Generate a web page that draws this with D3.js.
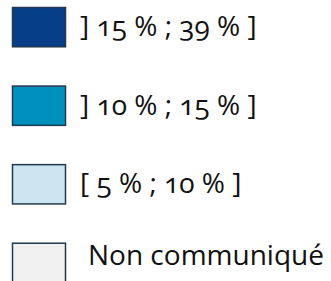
<!DOCTYPE html>
<html>
<head>
<meta charset="utf-8">
<script src="https://cdn.jsdelivr.net/npm/d3@7"></script>
<style>
  body { margin: 0; background: #fff; }
  text { font-family: "Open Sans", sans-serif; font-variant-numeric: oldstyle-nums; fill: #111; }
</style>
</head>
<body>
<div id="legend"></div>
<script>
"use strict";

var classes = ["] 15 % ; 39 % ]", "] 10 % ; 15 % ]", "[ 5 % ; 10 % ]", "Non communiqué"];
var colors = ["#063f87", "#0090bd", "#cce3f0", "#f0f0f0"];

var width = 331, height = 281;

var svg = d3.select("#legend").append("svg")
    .attr("width", width)
    .attr("height", height);

// rows placed on a band scale, one per class
var y = d3.scaleBand()
    .domain(classes)
    .range([7, 282])
    .paddingInner(0.5)
    .paddingOuter(0);

var rows = svg.selectAll("g.row")
    .data(classes)
  .enter().append("g")
    .attr("class", "row")
    .attr("transform", function(d) { return "translate(0," + y(d) + ")"; });

rows.append("rect")
    .attr("x", 12.5)
    .attr("y", 0.5)
    .attr("width", 53)
    .attr("height", y.bandwidth())
    .attr("fill", function(d, i) { return colors[i]; })
    .attr("stroke", "#22384d")
    .attr("stroke-width", 1.5);

rows.append("text")
    .attr("x", function(d, i) { return i === 3 ? 88 : 80; })
    .attr("y", function(d, i) { return i === 3 ? 22 : 29; })
    .attr("font-size", 28)
    .text(function(d) { return d; });
</script>
</body>
</html>
